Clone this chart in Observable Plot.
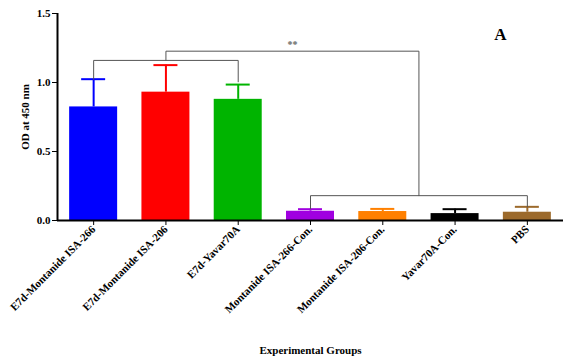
<!DOCTYPE html>
<html>
<head>
<meta charset="utf-8">
<script src="https://cdn.jsdelivr.net/npm/d3@7"></script>
<script src="https://cdn.jsdelivr.net/npm/@observablehq/plot@0.6"></script>
<style>
  body { margin: 0; background: #fff; }
  svg { font-family: "Liberation Serif", "DejaVu Serif", serif; font-weight: bold; }
</style>
</head>
<body>
<div id="chart"></div>
<script>
const groups = ["E7d-Montanide ISA-266", "E7d-Montanide ISA-206", "E7d-Yavar70A",
  "Montanide ISA-266-Con.", "Montanide ISA-206-Con.", "Yavar70A-Con.", "PBS"];
const means = [0.823, 0.930, 0.878, 0.067, 0.065, 0.050, 0.060];
const errors = [0.201, 0.196, 0.107, 0.015, 0.019, 0.032, 0.039];
const colors = ["#0000ff", "#ff0000", "#00b400", "#a000e0", "#ff8000", "#000000", "#9c6a2c"];
const yTicks = [0, 0.5, 1.0, 1.5];

const data = groups.map((g, i) => ({i, g, mean: means[i], err: errors[i], top: means[i] + errors[i], color: colors[i]}));
const half = 0.332;

// significance brackets (group index, value)
const bracket1 = [{x: 0, y: data[0].top}, {x: 0, y: 1.16}, {x: 2, y: 1.16}, {x: 2, y: 1.005}];
const bracket2 = [{x: 3, y: 0.085}, {x: 3, y: 0.18}, {x: 6, y: 0.18}, {x: 6, y: data[6].top}];
const connector = [{x: 1, y: 1.16}, {x: 1, y: 1.227}, {x: 4.5, y: 1.227}, {x: 4.5, y: 0.18}];

const chart = Plot.plot({
  width: 563,
  height: 360,
  marginLeft: 57,
  marginRight: 0,
  marginTop: 13,
  marginBottom: 140,
  style: {fontFamily: "Liberation Serif, serif", fontWeight: "bold", fontSize: "11px", background: "#fff"},
  x: {domain: [-0.5, 6.5]},
  y: {domain: [0, 1.5]},
  marks: [
    Plot.rectY(data, {x1: d => d.i - half, x2: d => d.i + half, y: "mean", fill: "color"}),
    Plot.ruleX(data, {x: "i", y1: "mean", y2: "top", stroke: "color", strokeWidth: 2}),
    Plot.ruleY(data, {y: "top", x1: d => d.i - half / 2, x2: d => d.i + half / 2, stroke: "color", strokeWidth: 2}),
    Plot.line(bracket1, {x: "x", y: "y", stroke: "#555", strokeWidth: 1}),
    Plot.line(bracket2, {x: "x", y: "y", stroke: "#555", strokeWidth: 1}),
    Plot.line(connector, {x: "x", y: "y", stroke: "#555", strokeWidth: 1}),
    Plot.text(["**"], {x: 2.75, y: 1.227, dy: -3, lineAnchor: "bottom", fontSize: 10, fill: "#666"}),
    Plot.text(["A"], {frameAnchor: "top-right", dx: -63, dy: 14, fontSize: 17, lineAnchor: "top", textAnchor: "middle"}),
    Plot.ruleY([0], {stroke: "#000", strokeWidth: 2}),
    Plot.ruleX([-0.5], {stroke: "#000", strokeWidth: 2}),
    Plot.axisY({ticks: yTicks, tickFormat: d3.format(".1f"), tickSize: 5, tickPadding: 2, label: "OD at 450 nm", labelAnchor: "center", labelArrow: "none", labelOffset: 36, fontSize: 11}),
    Plot.axisX({ticks: groups.map((g, i) => i), tickFormat: i => groups[i], tickRotate: -45, tickSize: 5, tickPadding: 2, label: "Experimental Groups", labelAnchor: "center", labelArrow: "none", labelOffset: 133, fontSize: 11})
  ]
});
document.getElementById("chart").appendChild(chart);
</script>
</body>
</html>
